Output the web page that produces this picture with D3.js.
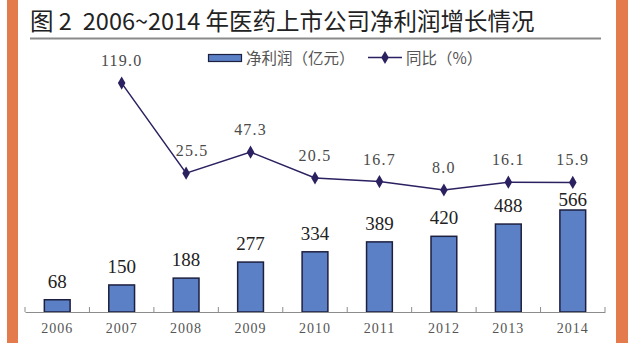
<!DOCTYPE html>
<html>
<head>
<meta charset="utf-8">
<script src="https://cdn.jsdelivr.net/npm/d3@7"></script>
<style>
  html, body { margin: 0; padding: 0; background: #fff; }
  svg { display: block; }
</style>
</head>
<body>
<div id="chart"></div>
<script>
// Chart data
const years = ['2006', '2007', '2008', '2009', '2010', '2011', '2012', '2013', '2014']
const profit = [68, 150, 188, 277, 334, 389, 420, 488, 566] // 净利润（亿元）
const yoyYears = ['2007', '2008', '2009', '2010', '2011', '2012', '2013', '2014']
const yoy = [119.0, 25.5, 47.3, 20.5, 16.7, 8.0, 16.1, 15.9] // 同比（%）

const width = 632
const height = 352
const serif = '"Liberation Serif", "Times New Roman", serif'
const cjk = '"Noto Sans CJK SC", "Noto Sans", sans-serif'
const barFill = '#5b80c6'
const barStroke = '#1d1f3f'
const lineColor = '#2b2160'
const orange = '#e37b4c'

const svg = d3
  .select('#chart')
  .append('svg')
  .attr('width', width)
  .attr('height', height)

// Orange side strips
svg.append('rect').attr('x', 7).attr('y', 0).attr('width', 11).attr('height', 343).attr('fill', orange)
svg.append('rect').attr('x', 616).attr('y', 0).attr('width', 12).attr('height', 343).attr('fill', orange)

// Title and rule
const title = svg.append('text')
  .attr('x', 30)
  .attr('y', 30)
  .attr('font-family', cjk)
  .attr('font-size', 23.5)
  .attr('fill', '#222')
title.append('tspan').text('图 2')
title.append('tspan').attr('dx', 11).text('2006~2014 年医药上市公司净利润增长情况')

svg.append('line')
  .attr('x1', 30).attr('x2', 601)
  .attr('y1', 38.5).attr('y2', 38.5)
  .attr('stroke', '#8a8a8a')
  .attr('stroke-width', 2)

// Scales
const x = d3.scaleBand().domain(years).range([25, 605]).paddingInner(0.6).paddingOuter(0.3)
const yBar = d3.scaleLinear().domain([0, 566]).range([312, 210])
const yLine = d3.scaleLinear().domain([0, 140]).range([197.7, 62.9])
const cx = (d) => x(d) + x.bandwidth() / 2

// Bars
svg.append('g')
  .selectAll('rect')
  .data(years)
  .join('rect')
  .attr('x', (d) => x(d))
  .attr('y', (d, i) => yBar(profit[i]))
  .attr('width', x.bandwidth())
  .attr('height', (d, i) => yBar(0) - yBar(profit[i]))
  .attr('fill', barFill)
  .attr('stroke', barStroke)
  .attr('stroke-width', 1.5)

// Bar labels, pushed down below the line marker when they would collide
const markerY = (d) => {
  const j = yoyYears.indexOf(d)
  return j < 0 ? -Infinity : yLine(yoy[j])
}
svg.append('g')
  .selectAll('text')
  .data(years)
  .join('text')
  .attr('x', cx)
  .attr('y', (d, i) => Math.max(yBar(profit[i]) - 12, markerY(d) + 24))
  .attr('text-anchor', 'middle')
  .attr('font-family', serif)
  .attr('font-size', 19)
  .attr('fill', '#222')
  .text((d, i) => profit[i])

// X axis: labels from the band scale, boundary ticks drawn upward
const xAxis = svg.append('g')
  .attr('transform', 'translate(0,312)')
  .call(d3.axisBottom(x).tickSize(0).tickPadding(8).tickSizeOuter(0))
xAxis.select('.domain').attr('stroke', '#8c8c8c')
xAxis.selectAll('text')
  .attr('font-family', serif)
  .attr('font-size', 14)
  .attr('letter-spacing', 1)
  .attr('fill', '#555')
  .attr('dy', '0.9em')

svg.append('g')
  .selectAll('line')
  .data(d3.range(years.length + 1))
  .join('line')
  .attr('x1', (k) => 25 + k * x.step())
  .attr('x2', (k) => 25 + k * x.step())
  .attr('y1', 307)
  .attr('y2', 312)
  .attr('stroke', '#8c8c8c')

// YoY line
const line = d3.line().x((d) => cx(d)).y((d, i) => yLine(yoy[i]))
svg.append('path')
  .datum(yoyYears)
  .attr('d', line)
  .attr('fill', 'none')
  .attr('stroke', lineColor)
  .attr('stroke-width', 1.5)

const diamond = d3.symbol().type(d3.symbolDiamond).size(50)
svg.append('g')
  .selectAll('path')
  .data(yoyYears)
  .join('path')
  .attr('d', diamond)
  .attr('transform', (d, i) => `translate(${cx(d)},${yLine(yoy[i])})`)
  .attr('fill', lineColor)

// Line labels; nudge right where the incoming segment rises steeply
svg.append('g')
  .selectAll('text')
  .data(yoyYears)
  .join('text')
  .attr('x', (d, i) => cx(d) + (i > 0 && yoy[i - 1] - yoy[i] > 50 ? 6 : 0))
  .attr('y', (d, i) => yLine(yoy[i]) - 17)
  .attr('text-anchor', 'middle')
  .attr('font-family', serif)
  .attr('font-size', 16)
  .attr('letter-spacing', 1.2)
  .attr('fill', '#4a4a4a')
  .text((d, i) => yoy[i].toFixed(1))

// Legend
const legend = svg.append('g')
legend.append('rect')
  .attr('x', 208.5).attr('y', 54.5)
  .attr('width', 33).attr('height', 7)
  .attr('fill', barFill)
  .attr('stroke', barStroke)
  .attr('stroke-width', 1.2)
legend.append('text')
  .attr('x', 246).attr('y', 64)
  .attr('font-family', cjk)
  .attr('font-size', 15.5)
  .attr('fill', '#555')
  .text('净利润（亿元）')
legend.append('line')
  .attr('x1', 368).attr('x2', 402)
  .attr('y1', 57.5).attr('y2', 57.5)
  .attr('stroke', lineColor)
  .attr('stroke-width', 1.5)
legend.append('path')
  .attr('d', diamond)
  .attr('transform', 'translate(385,57.5)')
  .attr('fill', lineColor)
legend.append('text')
  .attr('x', 406).attr('y', 64)
  .attr('font-family', cjk)
  .attr('font-size', 15.5)
  .attr('fill', '#555')
  .text('同比（%）')
</script>
</body>
</html>
